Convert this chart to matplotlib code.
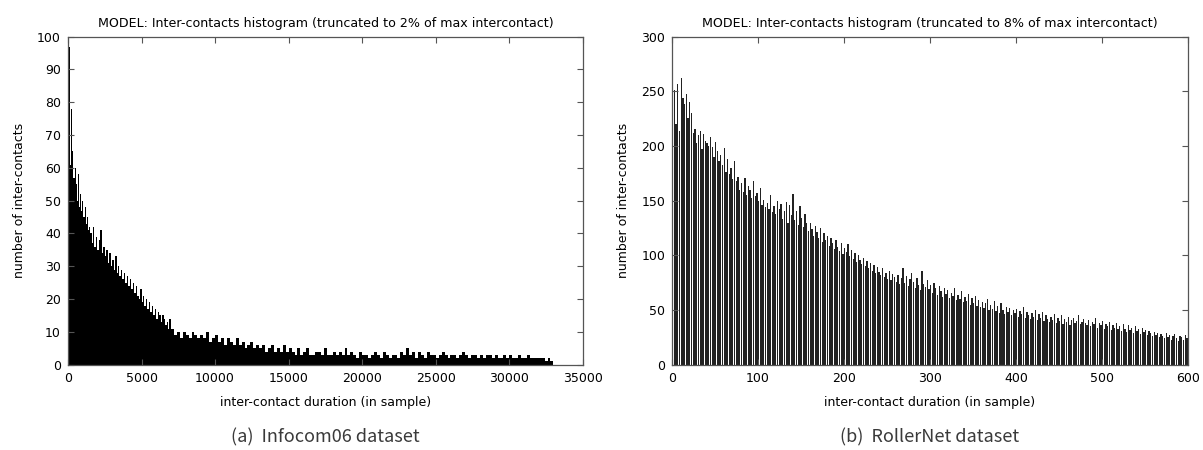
import numpy as np
import matplotlib.pyplot as plt

# Infocom06 inter-contact counts, three bin resolutions
infocom_head_bin = 75      # samples, 0..1500
infocom_head = [68, 97, 61, 78, 65, 57, 60, 55, 50, 58,
                48, 52, 47, 50, 45, 48, 43, 45, 41, 42]
infocom_mid_bin = 100      # samples, 1500..7000
infocom_mid = [40, 37, 42, 36, 39, 35, 38, 41, 34, 36,
               33, 35, 31, 34, 30, 32, 29, 33, 28, 30,
               27, 29, 26, 28, 25, 27, 24, 26, 23, 25,
               22, 24, 21, 20, 23, 19, 21, 18, 20, 17,
               19, 16, 18, 15, 17, 14, 16, 15, 13, 15,
               14, 12, 13, 11, 14]
infocom_tail_bin = 200     # samples, 7000..33000
infocom_tail = [11, 9, 10, 8, 10, 9, 8, 10, 9, 8,
                9, 8, 10, 7, 8, 9, 7, 8, 6, 8,
                7, 6, 8, 6, 7, 5, 6, 7, 5, 6,
                5, 6, 4, 5, 6, 4, 5, 4, 6, 4,
                5, 4, 3, 5, 3, 4, 5, 3, 3, 4,
                4, 3, 5, 3, 3, 4, 3, 4, 3, 5,
                3, 4, 3, 2, 4, 3, 3, 2, 3, 4,
                3, 2, 4, 3, 2, 3, 3, 2, 4, 3,
                5, 3, 4, 2, 4, 3, 2, 4, 3, 3,
                2, 3, 4, 3, 2, 3, 3, 2, 3, 4,
                3, 2, 3, 3, 2, 3, 2, 3, 3, 2,
                3, 2, 2, 3, 2, 3, 2, 2, 3, 2,
                2, 3, 2, 2, 2, 2, 2, 1, 2, 1]

# RollerNet inter-contact counts, 2-sample bins from 0 to 600
rollernet_bin = 2
rollernet = [232, 251, 220, 257, 214, 262, 244, 238, 248, 226, 240, 230, 212, 216, 203, 210, 214, 197, 211, 205,
             203, 200, 208, 199, 190, 204, 195, 186, 192, 183, 198, 176, 188, 174, 180, 170, 186, 168, 172, 160,
             166, 158, 171, 155, 163, 160, 152, 168, 154, 157, 150, 162, 146, 151, 144, 148, 142, 155, 140, 145,
             138, 150, 142, 147, 133, 141, 149, 130, 146, 137, 156, 132, 141, 128, 145, 134, 126, 138, 130, 122,
             130, 124, 118, 127, 121, 116, 125, 112, 120, 114, 118, 109, 116, 111, 106, 114, 108, 104, 111, 101,
             107, 103, 110, 99, 105, 97, 102, 94, 100, 96, 92, 98, 90, 95, 88, 93, 86, 91, 84, 89,
             85, 82, 88, 80, 84, 78, 86, 77, 83, 80, 76, 82, 74, 79, 88, 75, 81, 72, 78, 84,
             76, 70, 79, 73, 68, 86, 74, 71, 77, 69, 73, 66, 75, 70, 64, 72, 67, 62, 70, 65,
             68, 61, 66, 63, 70, 59, 64, 60, 67, 57, 62, 58, 65, 55, 61, 56, 63, 54, 59, 53,
             57, 52, 56, 60, 50, 55, 51, 58, 49, 54, 47, 56, 50, 46, 53, 48, 52, 45, 50, 47,
             51, 44, 49, 46, 53, 43, 48, 45, 42, 47, 44, 50, 41, 46, 43, 48, 40, 45, 42, 39,
             44, 41, 46, 38, 43, 40, 45, 37, 42, 39, 44, 36, 41, 43, 38, 40, 45, 37, 39, 42,
             38, 36, 41, 35, 39, 37, 43, 34, 38, 36, 40, 33, 37, 35, 39, 32, 36, 34, 38, 33,
             35, 31, 37, 33, 30, 36, 32, 34, 29, 35, 31, 33, 28, 34, 30, 32, 27, 31, 29, 26,
             30, 27, 29, 25, 28, 26, 24, 29, 25, 27, 23, 26, 28, 24, 22, 26, 25, 23, 27, 24]

titles = ["MODEL: Inter-contacts histogram (truncated to 2% of max intercontact)",
          "MODEL: Inter-contacts histogram (truncated to 8% of max intercontact)"]
captions = ["(a)  Infocom06 dataset", "(b)  RollerNet dataset"]

# bin edges for the Infocom histogram
head_edges = np.arange(len(infocom_head)) * infocom_head_bin
mid_start = len(infocom_head) * infocom_head_bin
mid_edges = mid_start + np.arange(len(infocom_mid)) * infocom_mid_bin
tail_start = mid_start + len(infocom_mid) * infocom_mid_bin
tail_edges = tail_start + np.arange(len(infocom_tail) + 1) * infocom_tail_bin
infocom_edges = np.concatenate([head_edges, mid_edges, tail_edges])
infocom_counts = np.array(infocom_head + infocom_mid + infocom_tail)

plt.rcParams['font.family'] = 'DejaVu Sans'
fs = 9

fig = plt.figure(figsize=(12.03, 4.5), dpi=100)
ax1 = fig.add_axes([0.0565, 0.1896, 0.428, 0.7289])
ax2 = fig.add_axes([0.5586, 0.1896, 0.4289, 0.7289])

ax1.stairs(infocom_counts, infocom_edges, fill=True, color='black', linewidth=0)
ax1.set_xlim(0, 35000)
ax1.set_ylim(0, 100)
ax1.set_xticks(np.arange(0, 35001, 5000))
ax1.set_yticks(np.arange(0, 101, 10))

rx = np.arange(len(rollernet)) * rollernet_bin
ax2.bar(rx, rollernet, width=rollernet_bin * 0.75, align='edge',
        color='#222222', linewidth=0)
ax2.set_xlim(0, 600)
ax2.set_ylim(0, 300)
ax2.set_xticks(np.arange(0, 601, 100))
ax2.set_yticks(np.arange(0, 301, 50))

for ax, t, c in zip([ax1, ax2], titles, captions):
    ax.set_title(t, fontsize=9.1, pad=7)
    ax.set_xlabel("inter-contact duration (in sample)", fontsize=fs, labelpad=8)
    ax.set_ylabel("number of inter-contacts", fontsize=fs, labelpad=8)
    ax.tick_params(direction='in', top=True, right=True, length=4,
                   width=0.8, color='#555555', labelsize=fs, pad=5)
    for s in ax.spines.values():
        s.set_color('#555555')
        s.set_linewidth(0.9)
    ax.text(0.5, -0.222, c, transform=ax.transAxes, ha='center', va='center',
            fontsize=13, color='#3a3a3a', family=['Noto Sans CJK KR', 'DejaVu Sans'])

fig.savefig('out.png', dpi=100, facecolor='white')
